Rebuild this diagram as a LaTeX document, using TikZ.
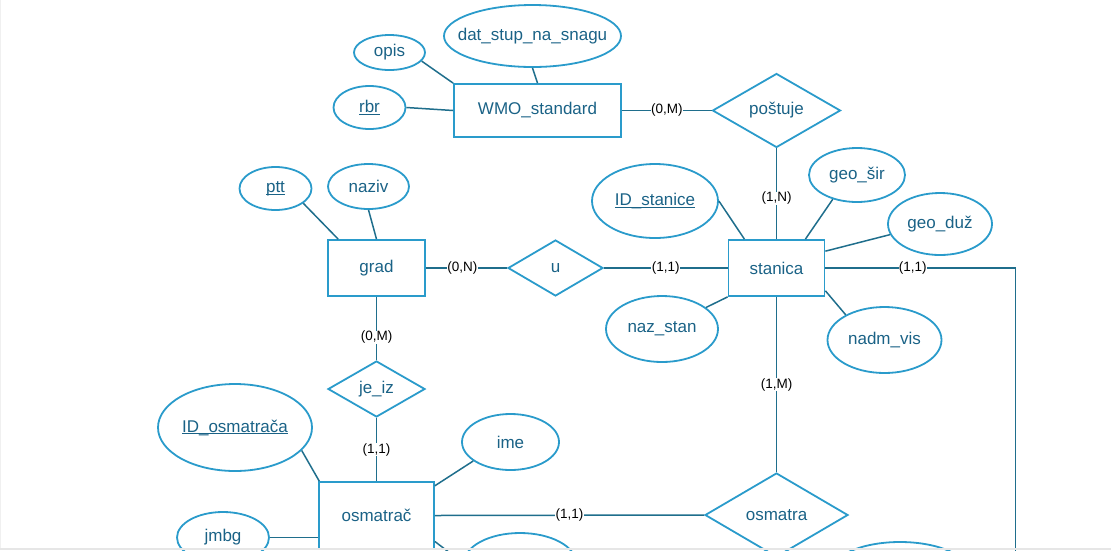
\documentclass[tikz,border=0pt]{standalone}
\usepackage{fontspec}
\setmainfont{Liberation Sans}
\usetikzlibrary{shapes.geometric}
\definecolor{erbox}{HTML}{2A9BCB}
\definecolor{erline}{HTML}{1F6E8C}
\definecolor{ertext}{HTML}{1A6286}
\definecolor{erband}{HTML}{E6E6E6}
\newcommand{\erkey}[1]{\setbox0\hbox{#1}\rlap{\rule[-2.2pt]{\wd0}{0.9pt}}\box0}
\newcommand{\erwide}[1]{\makebox[0pt]{#1}}
\begin{document}
\begin{tikzpicture}[x=1pt, y=-1pt,
  entity/.style={draw=erbox, line width=1.8pt, rectangle, inner sep=0pt, text=ertext, font=\fontsize{17}{20}\selectfont},
  attrib/.style={draw=erbox, line width=1.8pt, ellipse, inner sep=0pt, text=ertext, font=\fontsize{17}{20}\selectfont},
  relship/.style={draw=erbox, line width=1.8pt, diamond, inner sep=0pt, text=ertext, font=\fontsize{17}{20}\selectfont},
  link/.style={draw=erline, line width=1.5pt},
  card/.style={fill=white, inner sep=0.4pt, text=black, font=\fontsize{13.5}{16}\selectfont}]
  \useasboundingbox (0,0) rectangle (1111,550);
  \clip (0,0) rectangle (1111,550);

  \node[entity, minimum width=167pt, minimum height=53pt] (wmo) at (537.5,110.5) {WMO\_standard};
  \node[entity, minimum width=96pt, minimum height=56pt] (stanica) at (776.5,268) {stanica};
  \node[entity, minimum width=97pt, minimum height=56pt] (grad) at (376.5,268) {grad};
  \node[entity, minimum width=115pt, minimum height=67pt] (osmatrac) at (376.5,515.5) {osmatrač};

  \node[relship, minimum width=128pt, minimum height=74pt] (postuje) at (776.5,110.5) {poštuje};
  \node[relship, minimum width=95pt, minimum height=56pt] (u) at (555.5,268) {u};
  \node[relship, minimum width=97pt, minimum height=56pt] (jeiz) at (376.5,389) {je\_iz};
  \node[relship, minimum width=143pt, minimum height=84pt] (osmatra) at (776.5,515) {osmatra};

  \node[attrib, minimum width=71pt, minimum height=35pt] (opis) at (389.5,52.5) {opis};
  \node[attrib, minimum width=72pt, minimum height=43pt] (rbr) at (369.5,107.5) {\erkey{rbr}};
  \node[attrib, minimum width=177pt, minimum height=62pt] (datstup) at (532.5,36) {\erwide{dat\_stup\_na\_snagu}};
  \node[attrib, minimum width=126pt, minimum height=74pt] (idstanice) at (655,201) {\erkey{ID\_stanice}};
  \node[attrib, minimum width=96pt, minimum height=54pt] (geosir) at (857,175) {geo\_šir};
  \node[attrib, minimum width=104pt, minimum height=62pt] (geoduz) at (940,224) {geo\_duž};
  \node[attrib, minimum width=112pt, minimum height=66pt] (nazstan) at (662,329) {naz\_stan};
  \node[attrib, minimum width=114pt, minimum height=66pt] (nadmvis) at (884.5,340) {nadm\_vis};
  \node[attrib, minimum width=72pt, minimum height=43pt] (ptt) at (275.5,188.5) {\erkey{ptt}};
  \node[attrib, minimum width=81pt, minimum height=45pt] (naziv) at (368.5,186.5) {naziv};
  \node[attrib, minimum width=154pt, minimum height=87pt] (idosmatraca) at (235,427.5) {\erkey{ID\_osmatrača}};
  \node[attrib, minimum width=97pt, minimum height=56pt] (ime) at (510.5,442) {ime};
  \node[attrib, minimum width=92pt, minimum height=51pt] (jmbg) at (223,537.5) {jmbg};
  \node[attrib, minimum width=112pt, minimum height=60pt] (attrlow) at (520,563) {};
  \node[attrib, minimum width=140pt, minimum height=62pt] (attrright) at (900,573) {};

  \coordinate (turn) at (1015.5,268);
  \coordinate (down) at (1015.5,560);

  \draw[link] (opis.-15) -- (wmo.north west);
  \draw[link] (rbr.east) -- (wmo.west);
  \draw[link] (datstup.south) -- (wmo.north);
  \draw[link] (wmo.east) -- node[card] {(0,M)} (postuje.west);
  \draw[link] (postuje.south) -- node[card, pos=0.55] {(1,N)} (stanica.north);

  \draw[link] (idstanice.east) -- (stanica.138);
  \draw[link] (geosir.225) -- (stanica.45);
  \draw[link] (geoduz.192) -- (stanica.19);
  \draw[link] (nazstan) -- (stanica.south west);
  \draw[link] (nadmvis.147) -- (stanica.-25);
  \draw[link] (u.east) -- node[card] {(1,1)} (stanica.west);
  \draw[link] (stanica.east) -- node[card, pos=0.46] {(1,1)} (turn) -- (down);
  \draw[link] (stanica.south) -- node[card] {(1,M)} (osmatra.north);

  \draw[link] (ptt.-28) -- (grad.143);
  \draw[link] (naziv.south) -- (grad.north);
  \draw[link] (grad.east) -- node[card, pos=0.45] {(0,N)} (u.west);
  \draw[link] (grad.south) -- node[card, pos=0.64] {(0,M)} (jeiz.north);
  \draw[link] (jeiz.south) -- node[card] {(1,1)} (osmatrac.north);

  \draw[link] (idosmatraca.-19) -- (osmatrac.149);
  \draw[link] (ime.207) -- (osmatrac.27);
  \draw[link] (jmbg.east) -- (jmbg.east -| osmatrac.west);
  \draw[link] (osmatrac.-24) -- (attrlow.west);
  \draw[link] (osmatrac.east) -- node[card] {(1,1)} (osmatra.west);

  \fill[erband] (0,547.5) rectangle (1111,550);
  \draw[erband!60, line width=1pt] (0.5,0) -- (0.5,547.5);
\end{tikzpicture}
\end{document}
